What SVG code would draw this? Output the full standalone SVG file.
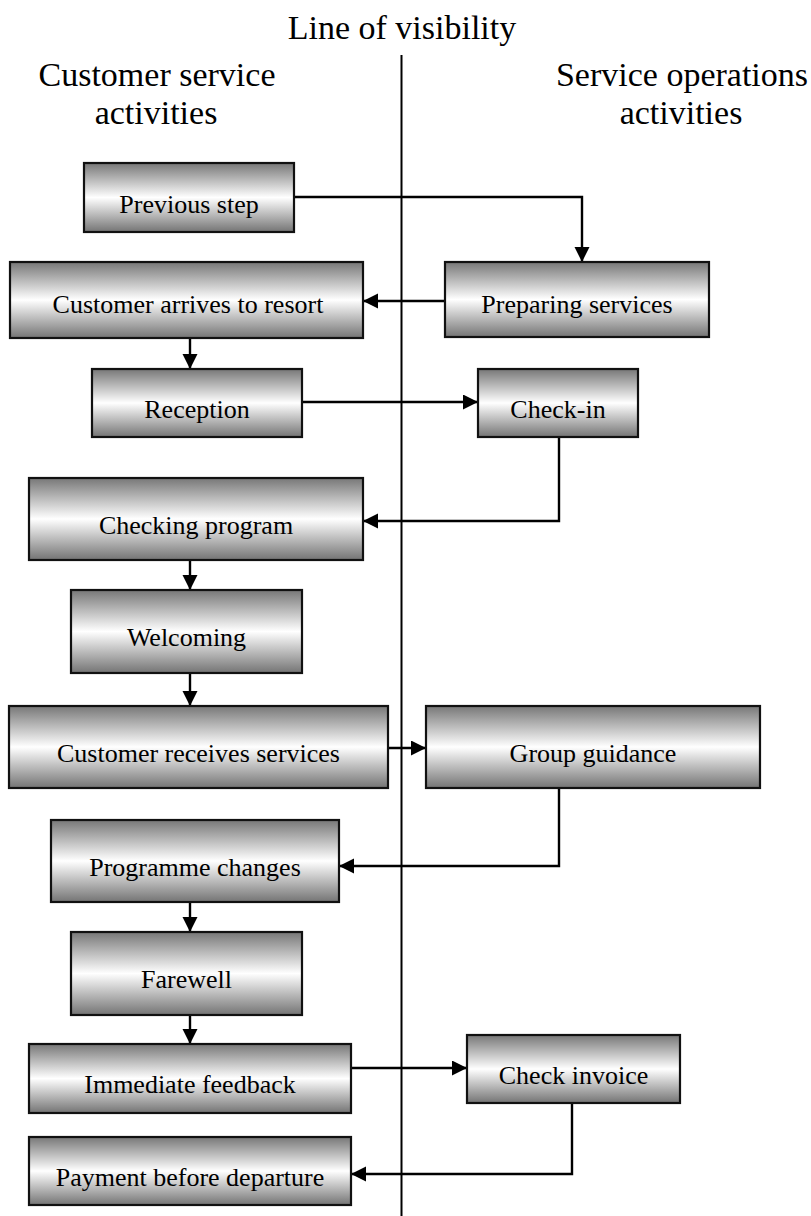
<svg xmlns="http://www.w3.org/2000/svg" width="811" height="1216" viewBox="0 0 811 1216">
  <defs>
    <linearGradient id="boxFill" x1="0" y1="0" x2="0" y2="1">
      <stop offset="0" stop-color="#777777"/>
      <stop offset="0.5" stop-color="#ffffff"/>
      <stop offset="1" stop-color="#747474"/>
    </linearGradient>
    <marker id="arrow" markerUnits="userSpaceOnUse" markerWidth="18" markerHeight="16" refX="15" refY="7.5" orient="auto">
      <path d="M0,0 L15,7.5 L0,15 Z" fill="#000"/>
    </marker>
    <style>
      .box { fill: url(#boxFill); stroke: #111; stroke-width: 2.2; }
      .label { font-family: "Liberation Serif", "Times New Roman", serif; font-size: 26px; fill: #000; text-anchor: middle; }
      .head { font-family: "Liberation Serif", "Times New Roman", serif; font-size: 34px; fill: #000; text-anchor: middle; }
      .conn { fill: none; stroke: #000; stroke-width: 2.4; marker-end: url(#arrow); }
      .divider { stroke: #000; stroke-width: 2; }
    </style>
  </defs>

  <rect width="811" height="1216" fill="#fff"/>

  <!-- headers -->
  <g id="headers">
    <text class="head" x="402" y="39">Line of visibility</text>
    <text class="head" x="157" y="86">Customer service</text>
    <text class="head" x="156" y="124">activities</text>
    <text class="head" x="682" y="86">Service operations</text>
    <text class="head" x="681" y="124">activities</text>
  </g>

  <!-- line of visibility -->
  <line class="divider" x1="401.5" y1="55" x2="401.5" y2="1216"/>

  <!-- connectors -->
  <g id="connectors">
    <path class="conn" d="M294,197 H582 V262"/>
    <path class="conn" d="M445,301 H363"/>
    <path class="conn" d="M190,338 V369"/>
    <path class="conn" d="M302,402 H478"/>
    <path class="conn" d="M559,437 V521 H363"/>
    <path class="conn" d="M190,560 V590"/>
    <path class="conn" d="M190,673 V706"/>
    <path class="conn" d="M388,748 H426"/>
    <path class="conn" d="M559,788 V866 H339"/>
    <path class="conn" d="M190,902 V932"/>
    <path class="conn" d="M190,1015 V1044"/>
    <path class="conn" d="M351,1068 H467"/>
    <path class="conn" d="M572,1103 V1174 H351"/>
  </g>

  <!-- nodes -->
  <g id="previous-step">
    <rect class="box" x="84" y="163" width="210" height="69"/>
    <text class="label" x="189" y="213">Previous step</text>
  </g>
  <g id="customer-arrives">
    <rect class="box" x="10" y="262" width="353" height="76"/>
    <text class="label" x="188" y="313">Customer arrives to resort</text>
  </g>
  <g id="preparing-services">
    <rect class="box" x="445" y="262" width="264" height="75"/>
    <text class="label" x="577" y="313">Preparing services</text>
  </g>
  <g id="reception">
    <rect class="box" x="92" y="369" width="210" height="68"/>
    <text class="label" x="197" y="418">Reception</text>
  </g>
  <g id="check-in">
    <rect class="box" x="478" y="369" width="160" height="68"/>
    <text class="label" x="558" y="418">Check-in</text>
  </g>
  <g id="checking-program">
    <rect class="box" x="29" y="478" width="334" height="82"/>
    <text class="label" x="196" y="534">Checking program</text>
  </g>
  <g id="welcoming">
    <rect class="box" x="71" y="590" width="231" height="83"/>
    <text class="label" x="186.5" y="646">Welcoming</text>
  </g>
  <g id="customer-receives">
    <rect class="box" x="9" y="706" width="379" height="82"/>
    <text class="label" x="198.5" y="762">Customer receives services</text>
  </g>
  <g id="group-guidance">
    <rect class="box" x="426" y="706" width="334" height="82"/>
    <text class="label" x="593" y="762">Group guidance</text>
  </g>
  <g id="programme-changes">
    <rect class="box" x="51" y="820" width="288" height="82"/>
    <text class="label" x="195" y="876">Programme changes</text>
  </g>
  <g id="farewell">
    <rect class="box" x="71" y="932" width="231" height="83"/>
    <text class="label" x="186.5" y="988">Farewell</text>
  </g>
  <g id="immediate-feedback">
    <rect class="box" x="29" y="1044" width="322" height="69"/>
    <text class="label" x="190" y="1093">Immediate feedback</text>
  </g>
  <g id="check-invoice">
    <rect class="box" x="467" y="1035" width="213" height="68"/>
    <text class="label" x="573.5" y="1084">Check invoice</text>
  </g>
  <g id="payment">
    <rect class="box" x="29" y="1137" width="322" height="68"/>
    <text class="label" x="190" y="1186">Payment before departure</text>
  </g>
</svg>
